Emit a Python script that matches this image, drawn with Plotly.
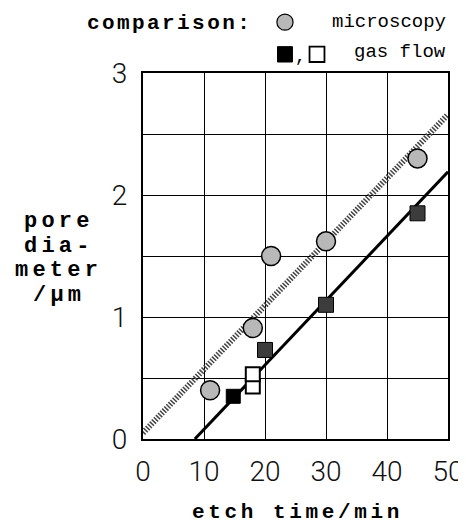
import plotly.graph_objects as go

# ---- data ----
micro_x = [11, 18, 21, 30, 45]
micro_y = [0.40, 0.91, 1.50, 1.62, 2.30]

gas_solid_x = [14.8]
gas_solid_y = [0.35]
gas_open_x = [18, 18]
gas_open_y = [0.43, 0.53]
gas_hatch_x = [20, 30, 45]
gas_hatch_y = [0.73, 1.10, 1.85]

micro_fit_x = [0, 50]
micro_fit_y = [0.05, 2.66]
gas_fit_x = [8.5, 50]
gas_fit_y = [0.0, 2.19]

x_ticks = [0, 10, 20, 30, 40, 50]
y_ticks = [0, 1, 2, 3]
y_title_lines = ["pore", "dia-", "meter", "/µm"]


def spaced(txt, gap=4):
    out = []
    for ch in txt:
        out.append(ch if ch != " " else "&nbsp;")
        out.append('<span style="font-size:%dpx">&nbsp;</span>' % gap)
    return "".join(out[:-1])


fig = go.Figure()

fig.add_trace(go.Scatter(x=micro_fit_x, y=micro_fit_y, mode="lines",
                         line=dict(color="#444", width=6, dash="1.5px,1.5px"),
                         hoverinfo="skip", showlegend=False))
fig.add_trace(go.Scatter(x=gas_fit_x, y=gas_fit_y, mode="lines",
                         line=dict(color="black", width=3),
                         hoverinfo="skip", showlegend=False))

fig.add_trace(go.Scatter(x=micro_x, y=micro_y, mode="markers", name="microscopy",
                         marker=dict(symbol="circle", size=19, color="#b8b8b8",
                                     line=dict(color="black", width=1.5)),
                         showlegend=False))
fig.add_trace(go.Scatter(x=gas_solid_x, y=gas_solid_y, mode="markers",
                         marker=dict(symbol="square", size=14, color="black",
                                     line=dict(color="black", width=1)),
                         showlegend=False))
fig.add_trace(go.Scatter(x=gas_open_x, y=gas_open_y, mode="markers",
                         marker=dict(symbol="square", size=14, color="white",
                                     line=dict(color="black", width=2)),
                         showlegend=False))
fig.add_trace(go.Scatter(x=gas_hatch_x, y=gas_hatch_y, mode="markers",
                         marker=dict(symbol="square", size=15, color="#3c3c3c",
                                     line=dict(color="black", width=1)),
                         showlegend=False))

tick_font = dict(family="Roboto, Liberation Sans, Arial, sans-serif", size=28,
                 color="#111", weight=300)
mono_b = "Liberation Mono, Courier New, monospace"

fig.update_layout(
    width=458, height=516,
    margin=dict(l=135, r=18, t=65, b=85, autoexpand=False),
    paper_bgcolor="white", plot_bgcolor="white",
    showlegend=False,
    xaxis=dict(range=[0, 50], tickvals=x_ticks, ticktext=[str(v) for v in x_ticks],
               showgrid=True, gridcolor="black", gridwidth=1.2, automargin=False,
               showline=True, linecolor="black", linewidth=2, mirror=True,
               zeroline=False, ticks="", tickfont=tick_font, ticklabelstandoff=6),
    yaxis=dict(range=[0, 3], tickvals=y_ticks, ticktext=[str(v) for v in y_ticks],
               showgrid=True, gridcolor="black", gridwidth=1.2, automargin=False,
               minor=dict(dtick=0.5, showgrid=True, gridcolor="black", gridwidth=1.2),
               showline=True, linecolor="black", linewidth=2, mirror=True,
               zeroline=False, ticks="", tickfont=tick_font, ticklabelstandoff=8),
)

# axis titles
fig.add_annotation(text="<b>" + spaced("etch time/min", 6) + "</b>",
                   xref="paper", yref="paper", x=0.5, y=-0.202,
                   xanchor="center", yanchor="middle", showarrow=False,
                   font=dict(family=mono_b, size=21, color="black"))
for i, line in enumerate(y_title_lines):
    fig.add_annotation(text="<b>" + spaced(line, 7) + "</b>",
                       xref="paper", yref="paper", x=-0.282, y=0.594 - i * 0.067,
                       xanchor="center", yanchor="middle", showarrow=False,
                       font=dict(family=mono_b, size=22, color="black"))

# legend block
fig.add_annotation(text="<b>" + spaced("comparison:", 4) + "</b>",
                   xref="paper", yref="paper", x=-0.19, y=1.135,
                   xanchor="left", yanchor="middle", showarrow=False,
                   font=dict(family=mono_b, size=21, color="black"))
fig.add_annotation(text="microscopy", xref="paper", yref="paper", x=0.613, y=1.14,
                   xanchor="left", yanchor="middle", showarrow=False,
                   font=dict(family=mono_b, size=19, color="black"))
fig.add_annotation(text="gas flow", xref="paper", yref="paper", x=0.685, y=1.058,
                   xanchor="left", yanchor="middle", showarrow=False,
                   font=dict(family=mono_b, size=19, color="black"))
fig.add_annotation(text=",", xref="paper", yref="paper", x=0.515, y=1.045,
                   xanchor="center", yanchor="middle", showarrow=False,
                   font=dict(family=mono_b, size=18, color="black"))

# legend symbols (paper coords)
fig.add_shape(type="circle", xref="paper", yref="paper",
              x0=0.439, x1=0.492, y0=1.117, y1=1.161,
              fillcolor="#b8b8b8", line=dict(color="black", width=1.2))
fig.add_shape(type="rect", xref="paper", yref="paper",
              x0=0.441, x1=0.490, y0=1.030, y1=1.072,
              fillcolor="black", line=dict(color="black", width=1))
fig.add_shape(type="rect", xref="paper", yref="paper",
              x0=0.546, x1=0.595, y0=1.030, y1=1.072,
              fillcolor="white", line=dict(color="black", width=1.8))

fig.write_html("out.html")
